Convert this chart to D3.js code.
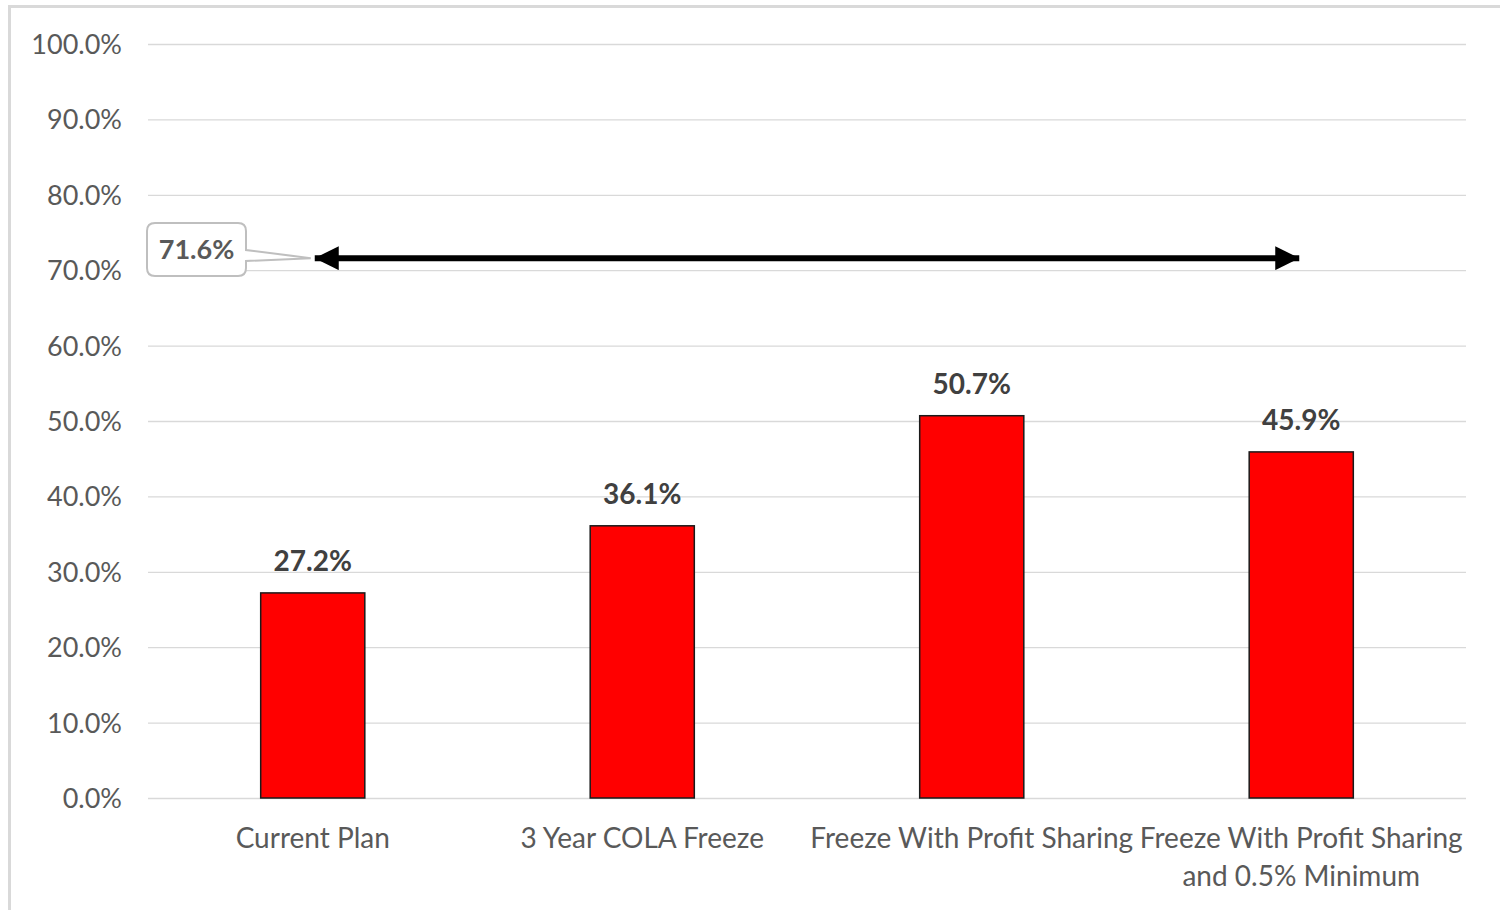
<!DOCTYPE html>
<html>
<head>
<meta charset="utf-8">
<script src="https://cdn.jsdelivr.net/npm/d3@7"></script>
<style>
  html, body { margin: 0; padding: 0; background: #fff; }
  svg { display: block; }
  text { font-family: Lato, "Open Sans", sans-serif; }
</style>
</head>
<body>
<svg id="chart" width="1500" height="910"></svg>
<script>
// Chart data
const categories = [
  ["Current Plan"],
  ["3 Year COLA Freeze"],
  ["Freeze With Profit Sharing"],
  ["Freeze With Profit Sharing", "and 0.5% Minimum"]
];
const values = [0.272, 0.361, 0.507, 0.459];
const yTicks = [0, 0.1, 0.2, 0.3, 0.4, 0.5, 0.6, 0.7, 0.8, 0.9, 1.0];
const rangeValue = 0.716;        // spread highlighted by the double arrow
const rangeFrom = 0, rangeTo = 3; // category indices the arrow spans

const svg = d3.select("#chart");
const W = 1500, H = 910;
const plot = { left: 148, right: 1466, top: 44, bottom: 798 };

// Outer chart frame
svg.append("rect")
  .attr("x", 9.5).attr("y", 6.5)
  .attr("width", W + 20).attr("height", H + 20)
  .attr("fill", "#fff").attr("stroke", "#d9d9d9").attr("stroke-width", 3);

const y = d3.scaleLinear().domain([0, 1]).range([plot.bottom, plot.top]);
const x = d3.scaleBand()
  .domain(d3.range(categories.length))
  .range([plot.left, plot.right])
  .paddingInner(0.684).paddingOuter(0.342);
const cx = i => x(i) + x.bandwidth() / 2;

// Gridlines + y-axis labels
const yAxis = d3.axisLeft(y)
  .tickValues(yTicks)
  .tickSize(-(plot.right - plot.left))
  .tickPadding(26)
  .tickFormat(d3.format(".1%"));
const gy = svg.append("g")
  .attr("transform", `translate(${plot.left},0)`)
  .call(yAxis);
gy.select(".domain").remove();
gy.selectAll(".tick line").attr("stroke", "#d9d9d9").attr("stroke-width", 1.3);
gy.selectAll(".tick text")
  .attr("fill", "#595959")
  .attr("font-size", 27)
  .attr("font-family", "Lato, sans-serif")
  .attr("dy", "0.35em");

// Bars
svg.append("g").selectAll("rect")
  .data(values)
  .join("rect")
  .attr("x", (d, i) => x(i))
  .attr("y", d => y(d))
  .attr("width", x.bandwidth())
  .attr("height", d => y(0) - y(d))
  .attr("fill", "#ff0000")
  .attr("stroke", "#1a1a1a")
  .attr("stroke-width", 1.5);

// Value labels above bars
svg.append("g").selectAll("text")
  .data(values)
  .join("text")
  .attr("x", (d, i) => cx(i))
  .attr("y", d => y(d) - 22)
  .attr("text-anchor", "middle")
  .attr("fill", "#404040")
  .attr("font-size", 28)
  .attr("font-weight", "bold")
  .text(d => d3.format(".1%")(d));

// Category labels (may wrap onto two lines)
const cat = svg.append("g").selectAll("text")
  .data(categories)
  .join("text")
  .attr("x", (d, i) => cx(i))
  .attr("y", 848)
  .attr("text-anchor", "middle")
  .attr("fill", "#595959")
  .attr("font-size", 28);
cat.selectAll("tspan")
  .data(d => d)
  .join("tspan")
  .attr("x", function () { return d3.select(this.parentNode).attr("x"); })
  .attr("dy", (d, j) => j === 0 ? 0 : 38)
  .text(d => d);

// Double-headed arrow marking the spread
const defs = svg.append("defs");
defs.append("marker")
  .attr("id", "head")
  .attr("viewBox", "0 0 10 10")
  .attr("refX", 10).attr("refY", 5)
  .attr("markerUnits", "userSpaceOnUse")
  .attr("markerWidth", 26).attr("markerHeight", 24)
  .attr("orient", "auto-start-reverse")
  .append("path").attr("d", "M0,0 L10,5 L0,10 Z").attr("fill", "#000");

const ay = y(rangeValue);
const ax0 = cx(rangeFrom), ax1 = cx(rangeTo);
svg.append("line")
  .attr("x1", ax0 + 2).attr("y1", ay)
  .attr("x2", ax1 - 2).attr("y2", ay)
  .attr("stroke", "#000").attr("stroke-width", 6)
  .attr("marker-start", "url(#head)")
  .attr("marker-end", "url(#head)");

// Callout box with the spread value
const box = { x: 147, y: 223, w: 99, h: 53 };
const callout = svg.append("g");
const r = 8;
const pY1 = box.y + 27, pY2 = box.y + 38;
const cPath = [
  `M${box.x + r},${box.y}`,
  `H${box.x + box.w - r}`,
  `Q${box.x + box.w},${box.y} ${box.x + box.w},${box.y + r}`,
  `V${pY1}`,
  `L${ax0 - 2},${ay}`,
  `L${box.x + box.w},${pY2}`,
  `V${box.y + box.h - r}`,
  `Q${box.x + box.w},${box.y + box.h} ${box.x + box.w - r},${box.y + box.h}`,
  `H${box.x + r}`,
  `Q${box.x},${box.y + box.h} ${box.x},${box.y + box.h - r}`,
  `V${box.y + r}`,
  `Q${box.x},${box.y} ${box.x + r},${box.y}`,
  "Z"
].join(" ");
callout.append("path")
  .attr("d", cPath)
  .attr("fill", "#fff")
  .attr("stroke", "#bfbfbf")
  .attr("stroke-width", 2);
callout.append("text")
  .attr("x", box.x + box.w / 2)
  .attr("y", box.y + box.h / 2)
  .attr("dy", "0.35em")
  .attr("text-anchor", "middle")
  .attr("fill", "#595959")
  .attr("font-size", 27)
  .attr("font-weight", "bold")
  .text(d3.format(".1%")(rangeValue));
</script>
</body>
</html>
